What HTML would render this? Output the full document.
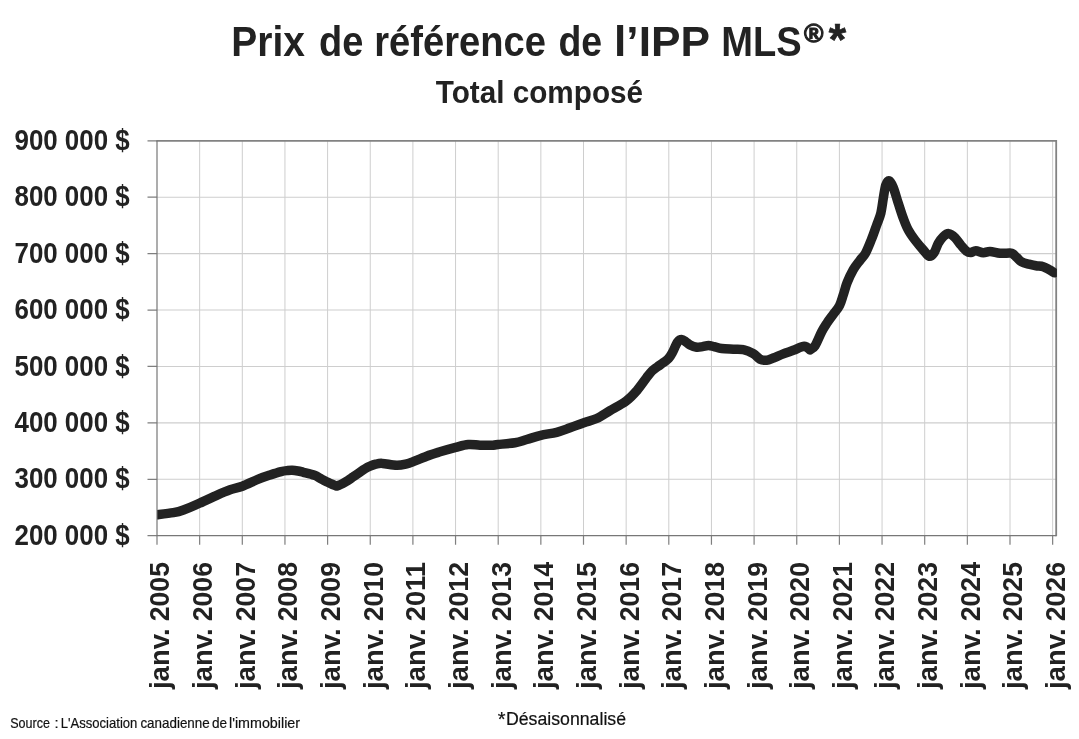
<!DOCTYPE html>
<html lang="fr"><head><meta charset="utf-8"><title>Prix de référence de l’IPP MLS</title>
<style>html,body{margin:0;padding:0;background:#fff}body{width:1079px;height:739px;overflow:hidden}</style></head>
<body>
<svg width="1079" height="739" viewBox="0 0 1079 739" style="display:block">
<rect width="1079" height="739" fill="#fff"/>
<path d="M199.65 140.8V535.7M242.30 140.8V535.7M284.95 140.8V535.7M327.60 140.8V535.7M370.25 140.8V535.7M412.90 140.8V535.7M455.55 140.8V535.7M498.20 140.8V535.7M540.85 140.8V535.7M583.50 140.8V535.7M626.15 140.8V535.7M668.80 140.8V535.7M711.45 140.8V535.7M754.10 140.8V535.7M796.75 140.8V535.7M839.40 140.8V535.7M882.05 140.8V535.7M924.70 140.8V535.7M967.35 140.8V535.7M1010.00 140.8V535.7M1052.65 140.8V535.7" stroke="#cecece" stroke-width="1" fill="none"/>
<path d="M157.0 197.21H1056.2M157.0 253.63H1056.2M157.0 310.04H1056.2M157.0 366.46H1056.2M157.0 422.87H1056.2M157.0 479.29H1056.2" stroke="#cecece" stroke-width="1.15" fill="none"/>
<path d="M157.00 535.7V544.7M199.65 535.7V544.7M242.30 535.7V544.7M284.95 535.7V544.7M327.60 535.7V544.7M370.25 535.7V544.7M412.90 535.7V544.7M455.55 535.7V544.7M498.20 535.7V544.7M540.85 535.7V544.7M583.50 535.7V544.7M626.15 535.7V544.7M668.80 535.7V544.7M711.45 535.7V544.7M754.10 535.7V544.7M796.75 535.7V544.7M839.40 535.7V544.7M882.05 535.7V544.7M924.70 535.7V544.7M967.35 535.7V544.7M1010.00 535.7V544.7M1052.65 535.7V544.7M147.5 140.80H157.0M147.5 197.21H157.0M147.5 253.63H157.0M147.5 310.04H157.0M147.5 366.46H157.0M147.5 422.87H157.0M147.5 479.29H157.0M147.5 535.70H157.0" stroke="#7f7f7f" stroke-width="1.2" fill="none"/>
<path d="M156.4 140.8H1056.2V536.3" fill="none" stroke="#828282" stroke-width="1.8"/>
<path d="M157.0 140.8V535.7H1056.2" fill="none" stroke="#777" stroke-width="1.2"/>
<clipPath id="c"><rect x="157.3" y="130" width="899.6" height="420"/></clipPath>
<path clip-path="url(#c)" d="M157.0 514.7C159.7 514.4 169.0 513.5 173.4 512.7C177.8 511.9 179.1 511.6 183.4 510.0C187.7 508.4 193.9 505.8 199.4 503.3C204.9 500.9 211.6 497.6 216.7 495.3C221.8 493.0 225.8 491.2 230.1 489.7C234.4 488.2 237.7 487.9 242.4 486.2C247.1 484.4 253.8 481.1 258.4 479.2C263.0 477.3 266.3 476.3 270.1 475.0C273.9 473.7 278.3 472.3 281.1 471.6C283.9 470.9 285.1 470.8 287.0 470.6C288.9 470.4 290.4 470.2 292.2 470.3C294.0 470.4 296.1 470.7 298.0 471.0C299.9 471.3 300.6 471.6 303.4 472.3C306.1 473.0 311.7 474.3 314.5 475.3C317.3 476.3 318.2 477.3 320.1 478.3C322.0 479.3 323.8 480.3 325.6 481.2C327.5 482.1 329.4 483.1 331.2 483.9C333.0 484.7 335.8 485.7 336.7 486.1C337.6 485.7 340.4 484.7 342.3 483.8C344.2 482.9 346.0 481.7 347.9 480.5C349.8 479.3 351.5 478.0 353.4 476.7C355.2 475.4 357.1 474.1 359.0 472.8C360.9 471.5 362.8 470.1 364.6 469.0C366.5 467.9 368.2 467.0 370.1 466.2C372.0 465.4 373.7 464.7 375.7 464.2C377.7 463.7 378.8 463.2 382.3 463.4C385.8 463.6 392.6 465.1 396.7 465.2C400.8 465.3 404.0 464.4 406.7 463.8C409.4 463.2 409.4 463.1 412.7 461.8C416.0 460.5 422.1 457.9 426.7 456.2C431.2 454.5 435.2 453.3 440.0 451.8C444.8 450.3 451.0 448.5 455.7 447.3C460.4 446.1 464.2 444.9 468.3 444.5C472.4 444.1 476.1 445.1 480.0 445.2C483.9 445.3 488.7 445.4 491.7 445.3C494.7 445.2 494.1 444.9 498.0 444.5C501.9 444.1 510.2 443.5 515.0 442.7C519.8 441.9 522.4 440.7 526.7 439.5C531.0 438.3 535.8 436.5 540.8 435.3C545.8 434.1 551.8 433.6 556.7 432.3C561.6 431.1 565.5 429.4 570.0 427.8C574.5 426.2 579.3 424.2 583.8 422.7C588.2 421.1 592.3 420.5 596.7 418.5C601.1 416.5 605.1 413.6 610.0 410.7C614.9 407.8 621.8 404.3 626.2 401.0C630.7 397.7 633.3 394.7 636.7 390.8C640.1 386.9 644.2 380.8 646.7 377.5C649.2 374.2 650.2 372.8 652.0 371.0C653.8 369.2 655.6 368.2 657.5 366.8C659.4 365.4 661.6 364.0 663.4 362.6C665.2 361.2 667.0 360.2 668.5 358.6C670.0 357.0 670.8 355.6 672.3 352.8C673.8 350.0 676.0 344.2 677.6 342.0C679.2 339.8 680.3 339.5 681.7 339.5C683.1 339.5 684.6 341.1 686.0 342.0C687.4 342.9 688.3 344.1 690.1 345.0C691.9 345.9 694.6 346.9 696.7 347.2C698.8 347.5 700.5 346.9 702.5 346.6C704.5 346.3 706.6 345.6 708.5 345.6C710.4 345.6 711.8 346.1 714.0 346.6C716.2 347.1 718.5 348.1 721.7 348.5C724.9 348.9 729.7 349.0 733.3 349.2C736.9 349.4 740.0 348.9 743.3 349.7C746.6 350.4 750.5 352.1 753.3 353.7C756.1 355.3 757.8 358.1 760.0 359.2C762.2 360.3 764.5 360.5 766.7 360.3C768.9 360.1 770.5 359.1 773.3 358.0C776.1 356.9 780.0 355.1 783.3 353.8C786.6 352.5 789.8 351.6 793.3 350.3C796.8 349.1 801.4 346.4 804.2 346.3C807.0 346.2 809.0 349.3 810.0 349.9C810.8 349.2 813.0 348.8 815.0 345.8C817.0 342.8 819.7 335.5 821.7 331.7C823.7 327.9 825.1 325.9 827.0 323.0C828.9 320.1 831.2 317.2 833.3 314.3C835.4 311.4 837.8 308.9 839.5 305.6C841.2 302.4 842.0 298.7 843.3 294.8C844.6 290.9 845.5 286.6 847.2 282.4C848.9 278.2 851.2 273.3 853.3 269.6C855.4 265.9 858.0 263.0 860.0 260.3C862.0 257.6 863.5 256.8 865.5 253.2C867.5 249.6 869.8 243.5 871.7 238.8C873.6 234.1 875.2 229.2 876.7 225.0C878.2 220.8 879.7 217.8 880.8 213.3C881.9 208.9 882.5 203.0 883.3 198.3C884.1 193.6 884.8 187.9 885.8 185.0C886.8 182.1 888.0 180.4 889.2 180.8C890.5 181.2 891.8 183.8 893.3 187.5C894.8 191.2 896.6 198.2 898.3 203.3C900.0 208.4 901.6 213.9 903.3 218.3C905.0 222.8 906.3 226.4 908.3 230.0C910.2 233.6 912.5 236.7 915.0 240.0C917.5 243.3 920.9 247.3 923.3 250.0C925.7 252.7 927.4 255.9 929.2 256.3C931.0 256.7 932.7 254.7 934.2 252.5C935.7 250.3 936.8 246.0 938.3 243.3C939.8 240.7 941.6 238.2 943.3 236.6C945.0 235.0 946.8 233.4 948.7 233.6C950.7 233.8 953.0 235.7 955.0 237.6C957.0 239.5 958.8 242.7 960.8 245.0C962.8 247.3 965.0 250.1 966.7 251.3C968.4 252.6 969.3 252.6 970.8 252.5C972.3 252.4 973.7 250.8 975.8 250.8C977.9 250.8 980.9 252.6 983.3 252.7C985.7 252.8 987.2 251.4 990.0 251.5C992.8 251.6 996.7 252.9 1000.0 253.2C1003.3 253.5 1007.8 253.0 1010.0 253.1C1012.2 253.2 1011.8 253.2 1013.0 254.0C1014.2 254.8 1015.5 256.4 1017.0 257.7C1018.5 259.0 1019.7 260.8 1021.7 261.9C1023.7 263.0 1026.5 263.5 1028.9 264.1C1031.3 264.7 1033.7 265.3 1036.1 265.7C1038.5 266.1 1041.1 266.0 1043.3 266.7C1045.5 267.4 1047.4 268.7 1049.2 269.7C1051.0 270.7 1053.4 272.3 1054.2 272.8" fill="none" stroke="#222" stroke-width="9.5" stroke-linejoin="round" stroke-linecap="round"/>
<g font-family="'Liberation Sans', sans-serif" fill="#222" font-weight="bold">
<text y="56.1" font-size="43.2"><tspan x="231.31" textLength="73.55" lengthAdjust="spacingAndGlyphs">Prix</tspan> <tspan x="318.96" textLength="44.28" lengthAdjust="spacingAndGlyphs">de</tspan> <tspan x="374.26" textLength="171.58" lengthAdjust="spacingAndGlyphs">référence</tspan> <tspan x="558.39" textLength="43.64" lengthAdjust="spacingAndGlyphs">de</tspan> <tspan x="614.05" textLength="95.08" lengthAdjust="spacingAndGlyphs">l’IPP</tspan> <tspan x="721.36" textLength="80.43" lengthAdjust="spacingAndGlyphs">MLS</tspan><tspan x="804" y="41.8" font-size="26.4" stroke="#222" stroke-width="1.1">®</tspan><tspan x="828.8" y="54.6" font-size="44.5" stroke="#222" stroke-width="0.7">*</tspan></text>
<text x="435.75" y="103.1" font-size="31.8" textLength="207.31" lengthAdjust="spacingAndGlyphs">Total composé</text>
<text x="14.49" y="150.0" font-size="28.8" textLength="115.18" lengthAdjust="spacingAndGlyphs">900 000 $</text>
<text x="14.49" y="206.4" font-size="28.8" textLength="115.18" lengthAdjust="spacingAndGlyphs">800 000 $</text>
<text x="14.49" y="262.8" font-size="28.8" textLength="115.18" lengthAdjust="spacingAndGlyphs">700 000 $</text>
<text x="14.49" y="319.2" font-size="28.8" textLength="115.18" lengthAdjust="spacingAndGlyphs">600 000 $</text>
<text x="14.49" y="375.6" font-size="28.8" textLength="115.18" lengthAdjust="spacingAndGlyphs">500 000 $</text>
<text x="14.49" y="432.0" font-size="28.8" textLength="115.18" lengthAdjust="spacingAndGlyphs">400 000 $</text>
<text x="14.49" y="488.4" font-size="28.8" textLength="115.18" lengthAdjust="spacingAndGlyphs">300 000 $</text>
<text x="14.49" y="544.9" font-size="28.8" textLength="115.18" lengthAdjust="spacingAndGlyphs">200 000 $</text>
<text transform="translate(169.4 689.4) rotate(-90)" font-size="27.8"><tspan x="0.39" font-size="26.8" textLength="60.7" lengthAdjust="spacingAndGlyphs">janv.</tspan> <tspan x="68.14" textLength="59.24" lengthAdjust="spacingAndGlyphs">2005</tspan></text>
<text transform="translate(212.0 689.4) rotate(-90)" font-size="27.8"><tspan x="0.39" font-size="26.8" textLength="60.7" lengthAdjust="spacingAndGlyphs">janv.</tspan> <tspan x="68.14" textLength="59.24" lengthAdjust="spacingAndGlyphs">2006</tspan></text>
<text transform="translate(254.7 689.4) rotate(-90)" font-size="27.8"><tspan x="0.39" font-size="26.8" textLength="60.7" lengthAdjust="spacingAndGlyphs">janv.</tspan> <tspan x="68.14" textLength="59.24" lengthAdjust="spacingAndGlyphs">2007</tspan></text>
<text transform="translate(297.3 689.4) rotate(-90)" font-size="27.8"><tspan x="0.39" font-size="26.8" textLength="60.7" lengthAdjust="spacingAndGlyphs">janv.</tspan> <tspan x="68.14" textLength="59.24" lengthAdjust="spacingAndGlyphs">2008</tspan></text>
<text transform="translate(340.0 689.4) rotate(-90)" font-size="27.8"><tspan x="0.39" font-size="26.8" textLength="60.7" lengthAdjust="spacingAndGlyphs">janv.</tspan> <tspan x="68.14" textLength="59.24" lengthAdjust="spacingAndGlyphs">2009</tspan></text>
<text transform="translate(382.6 689.4) rotate(-90)" font-size="27.8"><tspan x="0.39" font-size="26.8" textLength="60.7" lengthAdjust="spacingAndGlyphs">janv.</tspan> <tspan x="68.14" textLength="59.24" lengthAdjust="spacingAndGlyphs">2010</tspan></text>
<text transform="translate(425.3 689.4) rotate(-90)" font-size="27.8"><tspan x="0.39" font-size="26.8" textLength="60.7" lengthAdjust="spacingAndGlyphs">janv.</tspan> <tspan x="68.14" textLength="59.24" lengthAdjust="spacingAndGlyphs">2011</tspan></text>
<text transform="translate(467.9 689.4) rotate(-90)" font-size="27.8"><tspan x="0.39" font-size="26.8" textLength="60.7" lengthAdjust="spacingAndGlyphs">janv.</tspan> <tspan x="68.14" textLength="59.24" lengthAdjust="spacingAndGlyphs">2012</tspan></text>
<text transform="translate(510.6 689.4) rotate(-90)" font-size="27.8"><tspan x="0.39" font-size="26.8" textLength="60.7" lengthAdjust="spacingAndGlyphs">janv.</tspan> <tspan x="68.14" textLength="59.24" lengthAdjust="spacingAndGlyphs">2013</tspan></text>
<text transform="translate(553.2 689.4) rotate(-90)" font-size="27.8"><tspan x="0.39" font-size="26.8" textLength="60.7" lengthAdjust="spacingAndGlyphs">janv.</tspan> <tspan x="68.14" textLength="59.24" lengthAdjust="spacingAndGlyphs">2014</tspan></text>
<text transform="translate(595.9 689.4) rotate(-90)" font-size="27.8"><tspan x="0.39" font-size="26.8" textLength="60.7" lengthAdjust="spacingAndGlyphs">janv.</tspan> <tspan x="68.14" textLength="59.24" lengthAdjust="spacingAndGlyphs">2015</tspan></text>
<text transform="translate(638.5 689.4) rotate(-90)" font-size="27.8"><tspan x="0.39" font-size="26.8" textLength="60.7" lengthAdjust="spacingAndGlyphs">janv.</tspan> <tspan x="68.14" textLength="59.24" lengthAdjust="spacingAndGlyphs">2016</tspan></text>
<text transform="translate(681.2 689.4) rotate(-90)" font-size="27.8"><tspan x="0.39" font-size="26.8" textLength="60.7" lengthAdjust="spacingAndGlyphs">janv.</tspan> <tspan x="68.14" textLength="59.24" lengthAdjust="spacingAndGlyphs">2017</tspan></text>
<text transform="translate(723.8 689.4) rotate(-90)" font-size="27.8"><tspan x="0.39" font-size="26.8" textLength="60.7" lengthAdjust="spacingAndGlyphs">janv.</tspan> <tspan x="68.14" textLength="59.24" lengthAdjust="spacingAndGlyphs">2018</tspan></text>
<text transform="translate(766.5 689.4) rotate(-90)" font-size="27.8"><tspan x="0.39" font-size="26.8" textLength="60.7" lengthAdjust="spacingAndGlyphs">janv.</tspan> <tspan x="68.14" textLength="59.24" lengthAdjust="spacingAndGlyphs">2019</tspan></text>
<text transform="translate(809.1 689.4) rotate(-90)" font-size="27.8"><tspan x="0.39" font-size="26.8" textLength="60.7" lengthAdjust="spacingAndGlyphs">janv.</tspan> <tspan x="68.14" textLength="59.24" lengthAdjust="spacingAndGlyphs">2020</tspan></text>
<text transform="translate(851.8 689.4) rotate(-90)" font-size="27.8"><tspan x="0.39" font-size="26.8" textLength="60.7" lengthAdjust="spacingAndGlyphs">janv.</tspan> <tspan x="68.14" textLength="59.24" lengthAdjust="spacingAndGlyphs">2021</tspan></text>
<text transform="translate(894.4 689.4) rotate(-90)" font-size="27.8"><tspan x="0.39" font-size="26.8" textLength="60.7" lengthAdjust="spacingAndGlyphs">janv.</tspan> <tspan x="68.14" textLength="59.24" lengthAdjust="spacingAndGlyphs">2022</tspan></text>
<text transform="translate(937.1 689.4) rotate(-90)" font-size="27.8"><tspan x="0.39" font-size="26.8" textLength="60.7" lengthAdjust="spacingAndGlyphs">janv.</tspan> <tspan x="68.14" textLength="59.24" lengthAdjust="spacingAndGlyphs">2023</tspan></text>
<text transform="translate(979.7 689.4) rotate(-90)" font-size="27.8"><tspan x="0.39" font-size="26.8" textLength="60.7" lengthAdjust="spacingAndGlyphs">janv.</tspan> <tspan x="68.14" textLength="59.24" lengthAdjust="spacingAndGlyphs">2024</tspan></text>
<text transform="translate(1022.4 689.4) rotate(-90)" font-size="27.8"><tspan x="0.39" font-size="26.8" textLength="60.7" lengthAdjust="spacingAndGlyphs">janv.</tspan> <tspan x="68.14" textLength="59.24" lengthAdjust="spacingAndGlyphs">2025</tspan></text>
<text transform="translate(1065.0 689.4) rotate(-90)" font-size="27.8"><tspan x="0.39" font-size="26.8" textLength="60.7" lengthAdjust="spacingAndGlyphs">janv.</tspan> <tspan x="68.14" textLength="59.24" lengthAdjust="spacingAndGlyphs">2026</tspan></text>
</g>
<g font-family="'Liberation Sans', sans-serif" fill="#111" stroke="#111" stroke-width="0.2">
<text y="728.4" font-size="14.8"><tspan x="10.26" textLength="39.78" lengthAdjust="spacingAndGlyphs">Source</tspan> <tspan x="54.40">:</tspan> <tspan x="60.69" textLength="76.68" lengthAdjust="spacingAndGlyphs">L'Association</tspan> <tspan x="140.43" textLength="69.26" lengthAdjust="spacingAndGlyphs">canadienne</tspan> <tspan x="211.93" textLength="15.13" lengthAdjust="spacingAndGlyphs">de</tspan> <tspan x="229.03" textLength="71.05" lengthAdjust="spacingAndGlyphs">l'immobilier</tspan></text>
<text y="725.3" font-size="17.5"><tspan x="497.72" y="725.5" font-size="20">*</tspan><tspan x="506.01" y="725.3" textLength="120.01" lengthAdjust="spacingAndGlyphs">Désaisonnalisé</tspan></text>
</g>
</svg>
</body></html>
